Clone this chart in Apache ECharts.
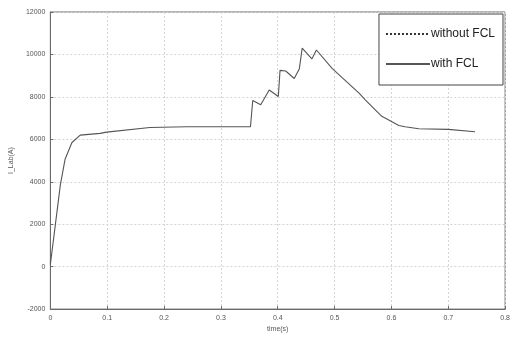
<!DOCTYPE html>
<html>
<head>
<meta charset="utf-8">
<script src="https://cdn.jsdelivr.net/npm/echarts@6/dist/echarts.min.js"></script>
<style>
  html, body { margin: 0; padding: 0; background: #fff; }
  #chart { width: 513px; height: 338px; }
</style>
</head>
<body>
<div id="chart"></div>
<script>
// Load current with a fault current limiter in the line (time in seconds, current in amperes)
const timeWithFCL = [0, 0.0088, 0.0175, 0.026, 0.038, 0.0525, 0.0875, 0.099, 0.175, 0.24, 0.309, 0.352,
  0.356, 0.370, 0.385, 0.401, 0.404, 0.414, 0.429, 0.438, 0.443, 0.460, 0.468, 0.496, 0.543,
  0.554, 0.583, 0.613, 0.624, 0.648, 0.700, 0.747];
const currentWithFCL = [100, 1980, 3840, 5075, 5850, 6200, 6280, 6340, 6560, 6590, 6590, 6590,
  7830, 7630, 8325, 8015, 9250, 9220, 8865, 9330, 10300, 9790, 10210, 9330, 8180,
  7860, 7085, 6654, 6590, 6500, 6470, 6360];
// The case without the limiter has no trace drawn in this figure, only its legend entry
const timeWithoutFCL = [];
const currentWithoutFCL = [];

const xTicks = { min: 0, max: 0.8, interval: 0.1 };
const yTicks = { min: -2000, max: 12000, interval: 2000 };

const pairs = (xs, ys) => xs.map((x, i) => [x, ys[i]]);

const chart = echarts.init(document.getElementById('chart'), null, { renderer: 'canvas' });
const axisGray = '#6a6a6a';
const gridGray = '#d4d4d4';
const labelStyle = { color: '#555', fontSize: 7, fontFamily: 'Liberation Sans' };

chart.setOption({
  animation: false,
  backgroundColor: '#fff',
  grid: { left: 50, right: 6, top: 12, bottom: 24, show: true, borderColor: axisGray, borderWidth: 1 },
  legend: {
    right: 10, top: 14,
    orient: 'vertical',
    width: 126,
    backgroundColor: '#fff',
    borderColor: '#444',
    borderWidth: 1,
    padding: [13, 8, 14, 6],
    itemGap: 16,
    itemWidth: 44,
    itemHeight: 14,
    itemStyle: { opacity: 0 },
    textStyle: { color: '#222', fontSize: 12, lineHeight: 14, fontFamily: 'Liberation Sans Narrow, Liberation Sans', padding: [0, 0, 0, -4] },
    data: ['without FCL', 'with FCL']
  },
  xAxis: {
    type: 'value',
    min: xTicks.min, max: xTicks.max, interval: xTicks.interval,
    name: 'time(s)', nameLocation: 'middle', nameGap: 14,
    nameTextStyle: { color: '#555', fontSize: 7, fontFamily: 'Liberation Sans' },
    axisLine: { onZero: false, lineStyle: { color: axisGray, width: 1 } },
    axisTick: { inside: true, length: 3, lineStyle: { color: axisGray } },
    axisLabel: Object.assign({ margin: 5, formatter: v => String(+v.toFixed(1)) }, labelStyle),
    splitLine: { show: true, lineStyle: { color: gridGray, type: [2, 2], width: 1 } }
  },
  yAxis: {
    type: 'value',
    min: yTicks.min, max: yTicks.max, interval: yTicks.interval,
    name: 'I_Lab(A)', nameLocation: 'middle', nameGap: 33, nameRotate: 90,
    nameTextStyle: { color: '#555', fontSize: 7, fontFamily: 'Liberation Sans' },
    axisLine: { show: true, onZero: false, lineStyle: { color: axisGray, width: 1 } },
    axisTick: { show: true, inside: true, length: 3, lineStyle: { color: axisGray } },
    axisLabel: Object.assign({ margin: 5, formatter: v => String(v) }, labelStyle),
    splitLine: { show: true, lineStyle: { color: gridGray, type: [2, 2], width: 1 } }
  },
  series: [
    {
      name: 'without FCL', type: 'line', symbol: 'none',
      data: pairs(timeWithoutFCL, currentWithoutFCL),
      lineStyle: { color: '#333', width: 1, type: [2, 2] },
      itemStyle: { color: '#333' }
    },
    {
      name: 'with FCL', type: 'line', symbol: 'none',
      data: pairs(timeWithFCL, currentWithFCL),
      lineStyle: { color: '#555', width: 1.1 },
      itemStyle: { color: '#333' }
    }
  ]
});
</script>
</body>
</html>
